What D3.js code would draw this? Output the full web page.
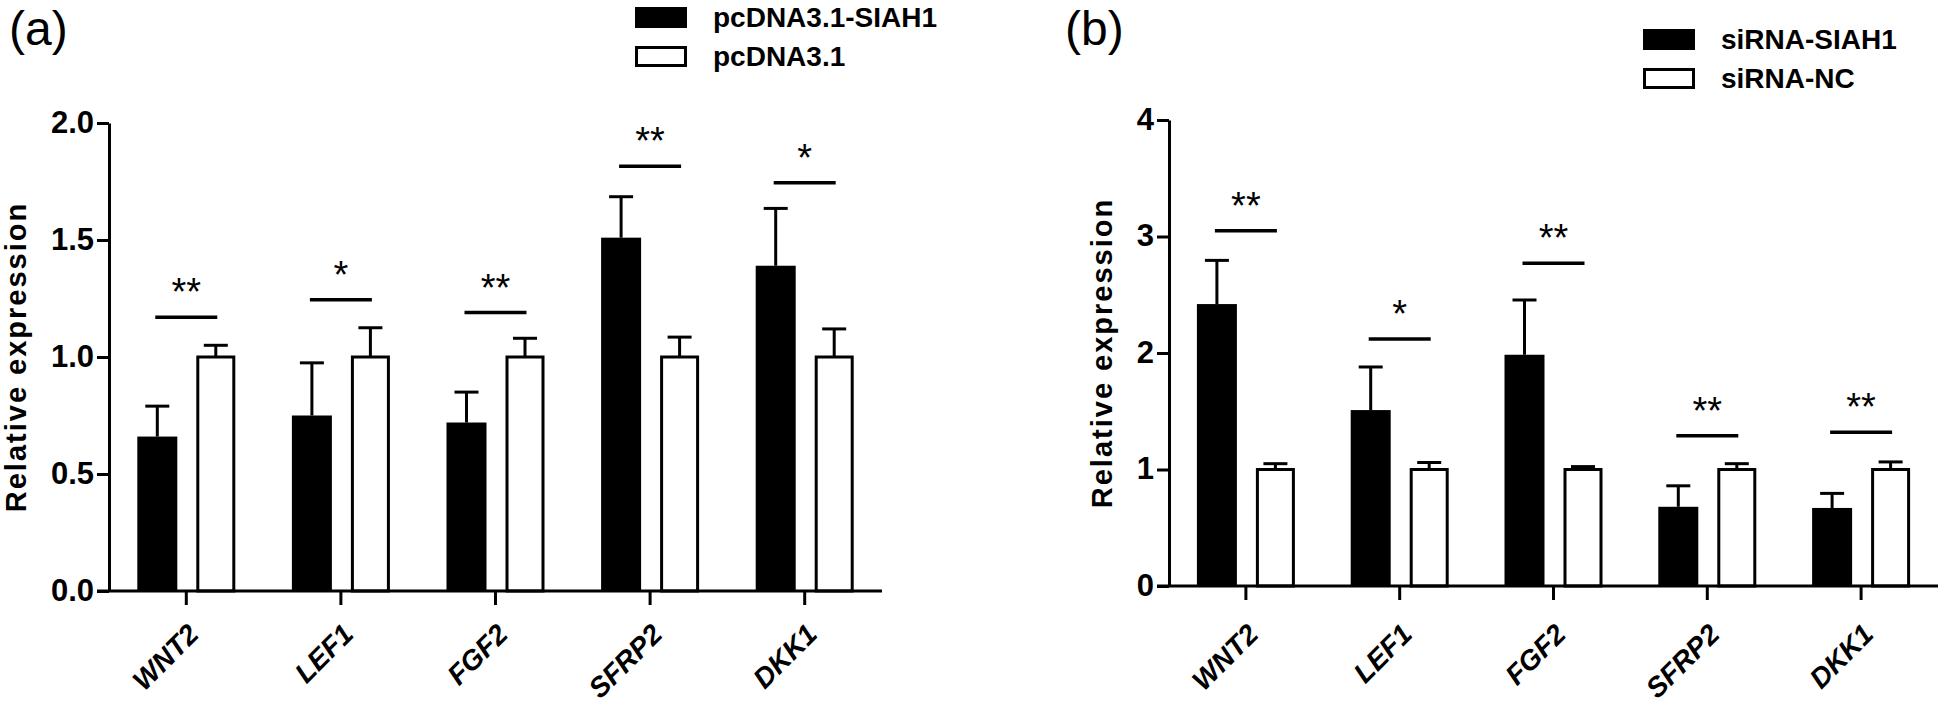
<!DOCTYPE html>
<html><head><meta charset="utf-8">
<script src="https://cdn.jsdelivr.net/npm/d3@7"></script>
<style>
body{margin:0;background:#fff;}
svg{display:block;}
text{font-family:"Liberation Sans",Arial,Helvetica,sans-serif;fill:#000;}
</style>
</head><body>
<svg id="c" width="1946" height="706"></svg>
<script>
// ---------- data ----------
const genes = ["WNT2", "LEF1", "FGF2", "SFRP2", "DKK1"];

// panel (a)
const aNames = ["pcDNA3.1-SIAH1", "pcDNA3.1"];
const aSiah1 = [0.66, 0.75, 0.72, 1.51, 1.39];
const aSiah1Err = [0.13, 0.225, 0.13, 0.175, 0.245];
const aCtrl = [1, 1, 1, 1, 1];
const aCtrlErr = [0.05, 0.125, 0.08, 0.085, 0.12];
const aSigLevel = [1.17, 1.245, 1.19, 1.815, 1.745];
const aStars = ["**", "*", "**", "**", "*"];
const aTicks = [0, 0.5, 1, 1.5, 2];
const aTickLabels = ["0.0", "0.5", "1.0", "1.5", "2.0"];

// panel (b)
const bNames = ["siRNA-SIAH1", "siRNA-NC"];
const bSi = [2.42, 1.51, 1.985, 0.68, 0.67];
const bSiErr = [0.375, 0.37, 0.47, 0.18, 0.125];
const bNc = [1, 1, 1, 1, 1];
const bNcErr = [0.05, 0.06, 0.025, 0.05, 0.065];
const bSigLevel = [3.05, 2.12, 2.77, 1.29, 1.32];
const bStars = ["**", "*", "**", "**", "**"];
const bTicks = [0, 1, 2, 3, 4];
const bTickLabels = ["0", "1", "2", "3", "4"];

const yTitle = "Relative expression";

// ---------- drawing ----------
const svg = d3.select("#c");
const FF = '"Liberation Sans",Arial,Helvetica,sans-serif';

function panel(o) {
  const g = svg.append("g");
  const x = d3.scaleBand().domain(genes).range([o.x0, o.x1]).padding(0);
  const y = d3.scaleLinear().domain([0, o.ymax]).range([o.y0, o.yTop]);
  const bw = x.bandwidth();
  const cx = d => x(d) + bw / 2;

  // bars: dark series
  g.selectAll(".dark").data(genes).join("rect")
    .attr("x", d => cx(d) - 49).attr("width", 40)
    .attr("y", (d, i) => y(o.dark[i])).attr("height", (d, i) => y(0) - y(o.dark[i]))
    .attr("fill", "#000");
  // bars: open series
  g.selectAll(".open").data(genes).join("rect")
    .attr("x", d => cx(d) + 11.5).attr("width", 36)
    .attr("y", (d, i) => y(o.open[i])).attr("height", (d, i) => y(0) - y(o.open[i]))
    .attr("fill", "#fff").attr("stroke", "#000").attr("stroke-width", 3);

  // error bars
  const eb = (off, vals, errs) => {
    genes.forEach((d, i) => {
      const c = cx(d) + off;
      g.append("line").attr("x1", c).attr("x2", c)
        .attr("y1", y(vals[i])).attr("y2", y(vals[i] + errs[i]))
        .attr("stroke", "#000").attr("stroke-width", 3);
      g.append("line").attr("x1", c - 12).attr("x2", c + 12)
        .attr("y1", y(vals[i] + errs[i])).attr("y2", y(vals[i] + errs[i]))
        .attr("stroke", "#000").attr("stroke-width", 3);
    });
  };
  eb(-29, o.dark, o.darkErr);
  eb(29.5, o.open, o.openErr);

  // significance lines and stars
  genes.forEach((d, i) => {
    g.append("line").attr("x1", cx(d) - 31).attr("x2", cx(d) + 31)
      .attr("y1", y(o.sig[i])).attr("y2", y(o.sig[i]))
      .attr("stroke", "#000").attr("stroke-width", 3.5);
    g.append("text").attr("x", cx(d)).attr("y", y(o.sig[i]) - 12)
      .attr("text-anchor", "middle").attr("font-size", 38)
      .text(o.stars[i]);
  });

  // y axis
  const ya = g.append("g").attr("transform", `translate(${o.x0},0)`)
    .call(d3.axisLeft(y).tickValues(o.ticks).tickFormat((d, i) => o.tickLabels[i])
      .tickSize(12).tickSizeOuter(0).tickPadding(3));
  ya.select(".domain").attr("stroke-width", 3);
  ya.selectAll(".tick line").attr("stroke-width", 3);
  ya.selectAll(".tick text").attr("font-size", 31).attr("font-weight", "bold")
    .attr("font-family", FF).attr("dy", "0.3em");

  // x axis
  const xa = g.append("g").attr("transform", `translate(0,${o.y0})`)
    .call(d3.axisBottom(x).tickSize(14).tickSizeOuter(0));
  xa.select(".domain").attr("stroke-width", 3).attr("d", `M${o.x0 - 12},0H${o.x1}`);
  xa.selectAll(".tick line").attr("stroke-width", 3);
  xa.selectAll(".tick text")
    .attr("y", null).attr("dy", null)
    .attr("transform", `translate(14,${o.labelDy}) rotate(-45)`)
    .attr("text-anchor", "end")
    .attr("font-size", 28).attr("font-weight", "bold").attr("font-style", "italic")
    .attr("font-family", FF);

  // y title
  g.append("text")
    .attr("transform", `translate(${o.titleX},${(o.y0 + o.yTop) / 2}) rotate(-90)`)
    .attr("text-anchor", "middle").attr("font-size", 29).attr("font-weight", "bold")
    .attr("letter-spacing", 2)
    .text(yTitle);

  // panel letter
  g.append("text").attr("x", o.letterX).attr("y", 45)
    .attr("font-size", 48).text(o.letter);

  // legend
  o.names.forEach((n, i) => {
    const ly = o.legY + i * 39;
    g.append("rect").attr("x", o.legX + 1.5).attr("y", ly + 1.5)
      .attr("width", 49).attr("height", 18)
      .attr("fill", i === 0 ? "#000" : "#fff").attr("stroke", "#000").attr("stroke-width", 3);
    g.append("text").attr("x", o.legX + 78).attr("y", ly + 20)
      .attr("font-size", 28).attr("font-weight", "bold").text(n);
  });
}

panel({
  x0: 109, x1: 882, y0: 591, yTop: 123, ymax: 2, labelDy: 45,
  dark: aSiah1, darkErr: aSiah1Err, open: aCtrl, openErr: aCtrlErr,
  sig: aSigLevel, stars: aStars, ticks: aTicks, tickLabels: aTickLabels,
  titleX: 26, letter: "(a)", letterX: 9, names: aNames, legX: 635, legY: 7
});
panel({
  x0: 1169, x1: 1938, y0: 586, yTop: 120, ymax: 4, labelDy: 50,
  dark: bSi, darkErr: bSiErr, open: bNc, openErr: bNcErr,
  sig: bSigLevel, stars: bStars, ticks: bTicks, tickLabels: bTickLabels,
  titleX: 1112, letter: "(b)", letterX: 1065, names: bNames, legX: 1643, legY: 29
});
</script>
</body></html>
